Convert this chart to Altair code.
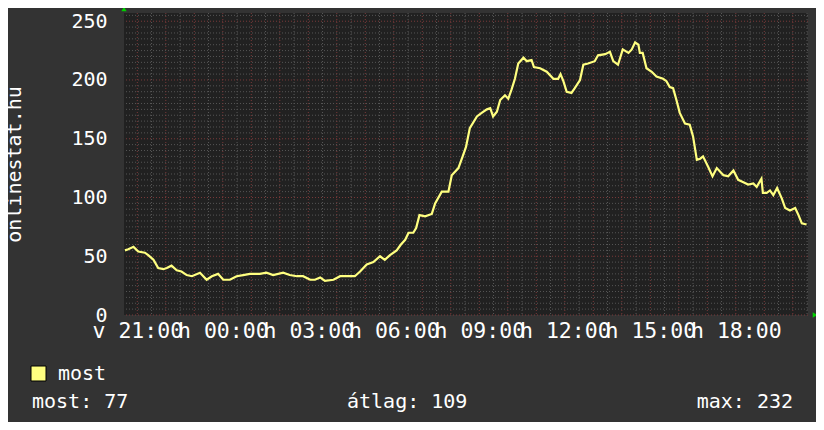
import altair as alt
import pandas as pd

# ---- data ----
times = ["20:34", "20:41", "20:52", "21:02", "21:16", "21:23", "21:34", "21:44", "21:55", "22:02",
         "22:12", "22:23", "22:33", "22:44", "22:55", "23:12", "23:26", "23:37", "23:50", "00:01",
         "00:15", "00:29", "00:43", "00:57", "01:18", "01:32", "01:46", "02:07", "02:21", "02:36",
         "02:49", "03:04", "03:14", "03:25", "03:35", "03:53", "04:07", "04:21", "04:38", "04:49",
         "05:03", "05:17", "05:31", "05:41", "05:52", "06:06", "06:15", "06:24", "06:31", "06:41",
         "06:47", "06:54", "07:06", "07:20", "07:27", "07:41", "07:55", "08:02", "08:16", "08:25",
         "08:32", "08:40", "08:55", "09:05", "09:16", "09:23", "09:29", "09:37", "09:44", "09:54",
         "10:01", "10:08", "10:15", "10:22", "10:33", "10:40", "10:50", "10:55", "11:08", "11:22",
         "11:36", "11:46", "11:51", "11:57", "12:04", "12:14", "12:21", "12:32", "12:39", "12:49",
         "13:03", "13:10", "13:25", "13:35", "13:42", "13:52", "14:02", "14:14", "14:21", "14:28",
         "14:35", "14:38", "14:44", "14:52", "15:03", "15:13", "15:27", "15:34", "15:41", "15:48",
         "15:55", "16:02", "16:13", "16:23", "16:30", "16:38", "16:45", "16:51", "17:02", "17:11",
         "17:20", "17:34", "17:44", "17:55", "18:05", "18:16", "18:26", "18:37", "18:44", "18:54",
         "18:57", "19:05", "19:12", "19:19", "19:27", "19:37", "19:44", "19:54", "20:05", "20:12",
         "20:19", "20:29"]
values = [55, 56, 58, 54, 53, 51, 47, 40, 39, 40,
          42, 38, 37, 34, 33, 36, 30, 33, 35, 30,
          30, 33, 34, 35, 35, 36, 34, 36, 34, 33,
          33, 30, 30, 32, 29, 30, 33, 33, 33, 37,
          43, 45, 50, 47, 51, 55, 60, 64, 70, 70,
          74, 85, 84, 86, 95, 105, 105, 119, 125, 135,
          143, 159, 169, 172, 175, 176, 169, 173, 183, 187,
          184, 192, 201, 214, 219, 216, 217, 211, 210, 207,
          201, 201, 205, 199, 190, 189, 193, 200, 213, 214,
          216, 221, 222, 224, 216, 213, 226, 223, 226, 232,
          230, 223, 223, 210, 207, 203, 201, 199, 194, 193,
          183, 172, 163, 162, 152, 132, 133, 135, 126, 118,
          125, 119, 118, 123, 115, 113, 111, 112, 109, 116,
          104, 104, 106, 102, 108, 99, 91, 89, 91, 85,
          78, 77]

tick_hours = ["21:00", "00:00", "03:00", "06:00", "09:00", "12:00", "15:00", "18:00"]
tick_days = ["v", "h", "h", "h", "h", "h", "h", "h"]
y_ticks = [0, 50, 100, 150, 200, 250]

y_title = "onlinestat.hu"
legend_name = "most"
stat_now, stat_avg, stat_max = 77, 109, 232

# ---- build tables ----
def to_min(t):
    h, m = t.split(":")
    return int(h) * 60 + int(m) - 21 * 60

mins, offset, prev = [], 0, None
for t in times:
    clock = int(t[:2]) * 60 + int(t[3:])
    if prev is not None and clock < prev:
        offset += 1440
    prev = clock
    mins.append(clock - 21 * 60 + offset)
df = pd.DataFrame({"t": mins, "v": values})

tick_vals = []
for t in tick_hours:
    m = to_min(t)
    if m < 0:
        m += 1440
    tick_vals.append(m)

expr = "''"
for v, d, t in zip(reversed(tick_vals), reversed(tick_days), reversed(tick_hours)):
    expr = f"datum.value == {v} ? '{d} {t}' : ({expr})"

X0, X1 = -28, 1412
Y0, Y1 = 0, 257
W, H = 684, 302
FONT = "DejaVu Sans Mono"
BG = "#333333"
PLOT_BG = "#212121"
LINE = "#ffff80"

xs = alt.Scale(domain=[X0, X1], nice=False, zero=False)
ys = alt.Scale(domain=[Y0, Y1], nice=False)

vminor = pd.DataFrame({"t": [m for m in range(0, 1411, 30) if m % 60 != 0]})
vmajor = pd.DataFrame({"t": list(range(0, 1411, 60))})
hminor = pd.DataFrame({"v": [v for v in range(5, 256, 5) if v % 50 != 0]})
hmajor = pd.DataFrame({"v": list(range(0, 251, 50))})

dash = [1, 2]
g1 = alt.Chart(vminor).mark_rule(color="#5a5a5a", strokeDash=dash, strokeWidth=1).encode(
    x=alt.X("t:Q", scale=xs))
g2 = alt.Chart(hminor).mark_rule(color="#555555", strokeDash=dash, strokeWidth=1).encode(
    y=alt.Y("v:Q", scale=ys))
g3 = alt.Chart(vmajor).mark_rule(color="#7a3a3a", strokeDash=dash, strokeWidth=1).encode(
    x=alt.X("t:Q", scale=xs))
g4 = alt.Chart(hmajor).mark_rule(color="#7a3a3a", strokeDash=dash, strokeWidth=1).encode(
    y=alt.Y("v:Q", scale=ys))

line = alt.Chart(df).mark_line(color=LINE, strokeWidth=2.2, interpolate="linear").encode(
    x=alt.X("t:Q", scale=xs,
            axis=alt.Axis(values=tick_vals, labelExpr=expr, title=None, labelOverlap=False,
                          labelBound=False, labelFlush=False, domain=False, ticks=False,
                          grid=False, labelFont=FONT, labelFontSize=21.5, labelColor="#ffffff",
                          labelPadding=5)),
    y=alt.Y("v:Q", scale=ys,
            axis=alt.Axis(values=y_ticks, title=y_title, domain=False, ticks=False, grid=False,
                          labelFont=FONT, labelFontSize=20, labelColor="#ffffff",
                          labelPadding=17, labelOverlap=False, labelBound=False,
                          labelFlush=False,
                          titleFont=FONT, titleFontSize=20, titleColor="#ffffff",
                          titleFontWeight="normal", titleAngle=270, titleX=-110,
                          titleY=H / 2, titleAlign="center", titleBaseline="middle")),
)

one = pd.DataFrame({"a": [0]})
sq = alt.Chart(one).mark_rect(fill=LINE, stroke="#000000", strokeWidth=1).encode(
    x=alt.value(-93), x2=alt.value(-78), y=alt.value(353), y2=alt.value(368))

def txt(s, x, y, align="left"):
    return alt.Chart(one).mark_text(font=FONT, fontSize=20, color="#ffffff", align=align,
                                    baseline="middle").encode(
        x=alt.value(x), y=alt.value(y), text=alt.value(s))

t1 = txt(legend_name, -66, 361)
t2 = txt(f"most: {stat_now}", -92, 389)
t3 = txt(f"átlag: {stat_avg}", 223, 389)
t4 = txt(f"max: {stat_max}", 669, 389, align="right")

arr1 = alt.Chart(one).mark_point(shape="triangle-up", filled=True, color="#00d000",
                                 size=28, opacity=1).encode(x=alt.value(0), y=alt.value(-4))
arr2 = alt.Chart(one).mark_point(shape="triangle-right", filled=True, color="#00d000",
                                 size=28, opacity=1).encode(x=alt.value(691), y=alt.value(302))

chart = alt.layer(g1, g2, g3, g4, line, sq, t1, t2, t3, t4, arr1, arr2).properties(
    width=W, height=H,
    autosize=alt.AutoSizeParams(type="none"),
    padding={"left": 116, "top": 5, "right": 8, "bottom": 107},
    background=BG,
).configure_view(fill=PLOT_BG, stroke=None)

chart.save("out.html", embed_options={"renderer": "svg", "actions": False})
